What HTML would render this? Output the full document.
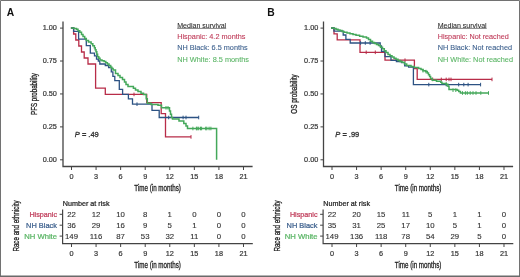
<!DOCTYPE html>
<html><head><meta charset="utf-8"><style>
html,body{margin:0;padding:0;background:#fff;}
svg{display:block;font-family:"Liberation Sans", sans-serif;filter:blur(0.3px);}
</style></head><body>
<svg width="520" height="277" viewBox="0 0 520 277">
<rect x="0" y="0" width="520" height="277" fill="#fff"/>
<path d="M0.5,277 V0.5 H519.5 V277" stroke="#727272" stroke-width="1" fill="none"/>
<line x1="0" y1="276.25" x2="520" y2="276.25" stroke="#6a6a6a" stroke-width="1.5"/>
<text x="6.80" y="15.50" font-size="10.3" fill="#111" stroke="#111" stroke-width="0" text-anchor="start" font-weight="bold" font-style="normal" >A</text>
<path d="M63.00,21.5 V166.5 H252.60" stroke="#444" stroke-width="1.3" fill="none"/>
<line x1="60.00" y1="28.10" x2="63.00" y2="28.10" stroke="#444" stroke-width="1"/>
<text x="56.90" y="30.30" font-size="7.3" fill="#3a3a3a" stroke="#3a3a3a" stroke-width="0.22" text-anchor="end" font-weight="normal" font-style="normal" >1.00</text>
<line x1="60.00" y1="61.03" x2="63.00" y2="61.03" stroke="#444" stroke-width="1"/>
<text x="56.90" y="63.23" font-size="7.3" fill="#3a3a3a" stroke="#3a3a3a" stroke-width="0.22" text-anchor="end" font-weight="normal" font-style="normal" >0.75</text>
<line x1="60.00" y1="93.95" x2="63.00" y2="93.95" stroke="#444" stroke-width="1"/>
<text x="56.90" y="96.15" font-size="7.3" fill="#3a3a3a" stroke="#3a3a3a" stroke-width="0.22" text-anchor="end" font-weight="normal" font-style="normal" >0.50</text>
<line x1="60.00" y1="126.88" x2="63.00" y2="126.88" stroke="#444" stroke-width="1"/>
<text x="56.90" y="129.08" font-size="7.3" fill="#3a3a3a" stroke="#3a3a3a" stroke-width="0.22" text-anchor="end" font-weight="normal" font-style="normal" >0.25</text>
<line x1="60.00" y1="159.80" x2="63.00" y2="159.80" stroke="#444" stroke-width="1"/>
<text x="56.90" y="162.00" font-size="7.3" fill="#3a3a3a" stroke="#3a3a3a" stroke-width="0.22" text-anchor="end" font-weight="normal" font-style="normal" >0.00</text>
<line x1="71.50" y1="166.5" x2="71.50" y2="170" stroke="#444" stroke-width="1"/>
<text x="71.50" y="178.80" font-size="7.3" fill="#3a3a3a" stroke="#3a3a3a" stroke-width="0.22" text-anchor="middle" font-weight="normal" font-style="normal" >0</text>
<line x1="96.07" y1="166.5" x2="96.07" y2="170" stroke="#444" stroke-width="1"/>
<text x="96.07" y="178.80" font-size="7.3" fill="#3a3a3a" stroke="#3a3a3a" stroke-width="0.22" text-anchor="middle" font-weight="normal" font-style="normal" >3</text>
<line x1="120.64" y1="166.5" x2="120.64" y2="170" stroke="#444" stroke-width="1"/>
<text x="120.64" y="178.80" font-size="7.3" fill="#3a3a3a" stroke="#3a3a3a" stroke-width="0.22" text-anchor="middle" font-weight="normal" font-style="normal" >6</text>
<line x1="145.21" y1="166.5" x2="145.21" y2="170" stroke="#444" stroke-width="1"/>
<text x="145.21" y="178.80" font-size="7.3" fill="#3a3a3a" stroke="#3a3a3a" stroke-width="0.22" text-anchor="middle" font-weight="normal" font-style="normal" >9</text>
<line x1="169.78" y1="166.5" x2="169.78" y2="170" stroke="#444" stroke-width="1"/>
<text x="169.78" y="178.80" font-size="7.3" fill="#3a3a3a" stroke="#3a3a3a" stroke-width="0.22" text-anchor="middle" font-weight="normal" font-style="normal" >12</text>
<line x1="194.35" y1="166.5" x2="194.35" y2="170" stroke="#444" stroke-width="1"/>
<text x="194.35" y="178.80" font-size="7.3" fill="#3a3a3a" stroke="#3a3a3a" stroke-width="0.22" text-anchor="middle" font-weight="normal" font-style="normal" >15</text>
<line x1="218.92" y1="166.5" x2="218.92" y2="170" stroke="#444" stroke-width="1"/>
<text x="218.92" y="178.80" font-size="7.3" fill="#3a3a3a" stroke="#3a3a3a" stroke-width="0.22" text-anchor="middle" font-weight="normal" font-style="normal" >18</text>
<line x1="243.49" y1="166.5" x2="243.49" y2="170" stroke="#444" stroke-width="1"/>
<text x="243.49" y="178.80" font-size="7.3" fill="#3a3a3a" stroke="#3a3a3a" stroke-width="0.22" text-anchor="middle" font-weight="normal" font-style="normal" >21</text>
<text x="134.30" y="191.30" font-size="8.9" fill="#222" stroke="#222" stroke-width="0.3" text-anchor="start" font-weight="normal" font-style="normal" textLength="46.6" lengthAdjust="spacingAndGlyphs" >Time (in months)</text>
<text transform="translate(36.70,94.00) rotate(-90)" x="0" y="0" font-size="8.6" fill="#222" stroke="#222" stroke-width="0.3" text-anchor="middle" textLength="41.9" lengthAdjust="spacingAndGlyphs">PFS probability</text>
<text x="177.20" y="27.60" font-size="7.6" fill="#2a2a2a" stroke="#2a2a2a" stroke-width="0.08" text-anchor="start" font-weight="normal" font-style="normal" textLength="49.0" lengthAdjust="spacingAndGlyphs" >Median survival</text>
<line x1="177.20" y1="28.4" x2="226.20" y2="28.4" stroke="#333" stroke-width="0.6"/>
<text x="177.20" y="39.10" font-size="7.6" fill="#bf3a58" stroke="#bf3a58" stroke-width="0.1" text-anchor="start" font-weight="normal" font-style="normal" textLength="68.3" lengthAdjust="spacingAndGlyphs" >Hispanic: 4.2 months</text>
<text x="177.20" y="50.40" font-size="7.6" fill="#3a5e8c" stroke="#3a5e8c" stroke-width="0.1" text-anchor="start" font-weight="normal" font-style="normal" textLength="70.5" lengthAdjust="spacingAndGlyphs" >NH Black: 6.5 months</text>
<text x="177.20" y="61.70" font-size="7.6" fill="#5ab565" stroke="#5ab565" stroke-width="0.1" text-anchor="start" font-weight="normal" font-style="normal" textLength="71.8" lengthAdjust="spacingAndGlyphs" >NH White: 8.5 months</text>
<text x="74.80" y="136.90" font-size="7.5" fill="#333" stroke="#333" stroke-width="0.3" text-anchor="start" font-weight="normal" font-style="normal" ><tspan font-style="italic">P</tspan> = .49</text>
<path d="M70.9,28 H73.6 V34 H75.8 V40 H78.8 V46 H81.5 V52 H84.2 V58 H88 V64 H95.6 V88.2 H105.3 V94.4 H146.7 V102.7 H161.2 V113.6 H165.5 V136.9 H191" stroke="#b82c48" stroke-width="1.3" fill="none" stroke-linejoin="miter"/>
<line x1="134.00" y1="92.60" x2="134.00" y2="96.20" stroke="#b82c48" stroke-width="1"/>
<line x1="191.00" y1="135.10" x2="191.00" y2="138.70" stroke="#b82c48" stroke-width="1"/>
<path d="M70.9,28 H73.6 V31.3 H78.6 V39.2 H86.3 V45.7 H90.3 V53.2 H94.5 V55.9 H96.5 V59.2 H98.3 V61 H99.8 V64 H105.3 V65.5 H108.6 V67.5 H111.3 V71.9 H112.9 V76.3 H114.8 V80.7 H119.3 V89.4 H122.6 V94.3 H128.4 V98.8 H132.5 V104.2 H152 V110.4 H159.2 V117.5 H198.7" stroke="#2c5283" stroke-width="1.3" fill="none" stroke-linejoin="miter"/>
<line x1="137.00" y1="102.40" x2="137.00" y2="106.00" stroke="#2c5283" stroke-width="1"/>
<line x1="168.70" y1="115.70" x2="168.70" y2="119.30" stroke="#2c5283" stroke-width="1"/>
<line x1="183.10" y1="115.70" x2="183.10" y2="119.30" stroke="#2c5283" stroke-width="1"/>
<line x1="186.00" y1="115.70" x2="186.00" y2="119.30" stroke="#2c5283" stroke-width="1"/>
<line x1="198.70" y1="115.70" x2="198.70" y2="119.30" stroke="#2c5283" stroke-width="1"/>
<path d="M70.90,28.00 L74.00,28.00 L74.00,28.60 L76.50,28.60 L76.50,29.30 L78.00,29.30 L78.00,30.80 L79.80,30.80 L79.80,32.30 L81.50,32.30 L81.50,34.40 L83.00,34.40 L83.00,36.40 L84.70,36.40 L84.70,38.40 L86.30,38.40 L86.30,40.40 L88.50,40.40 L88.50,42.00 L91.10,42.00 L91.10,43.70 L92.80,43.70 L92.80,45.70 L94.40,45.70 L94.40,47.80 L95.20,47.80 L95.20,49.80 L96.00,49.80 L96.00,51.80 L96.80,51.80 L96.80,54.20 L97.60,54.20 L97.60,56.70 L98.80,56.70 L98.80,58.30 L100.00,58.30 L100.00,60.00 L102.00,60.00 L102.00,60.80 L104.10,60.80 L104.10,61.60 L105.80,61.60 L105.80,62.80 L107.40,62.80 L107.40,64.00 L109.00,64.00 L109.00,65.60 L110.70,65.60 L110.70,67.30 L111.90,67.30 L111.90,68.60 L113.10,68.60 L113.10,70.00 L115.50,70.00 L115.50,70.00 L115.50,71.90 L115.50,73.50 L118.00,73.50 L118.00,75.50 L120.00,75.50 L120.00,77.50 L122.50,77.50 L122.50,79.50 L124.50,79.50 L124.50,82.00 L126.00,82.00 L126.00,84.50 L128.00,84.50 L128.00,86.50 L133.40,86.50 L133.40,88.30 L135.50,88.30 L135.50,90.00 L138.00,90.00 L138.00,91.60 L141.00,91.60 L141.00,93.20 L143.50,93.20 L143.50,94.50 L146.20,94.50 L146.20,98.80 L147.30,98.80 L147.30,103.20 L151.00,103.20 L151.00,104.40 L158.00,104.40 L158.00,105.20 L161.50,105.20 L161.50,107.80 L169.50,107.80 L169.50,111.00 L170.50,111.00 L170.50,114.20 L171.50,114.20 L171.50,117.50 L172.50,117.50 L172.50,119.00 L179.00,119.00 L179.00,121.00 L183.80,121.00 L183.80,123.50 L186.00,123.50 L186.00,126.00 L187.50,126.00 L187.50,128.50 L216.60,128.50 L216.60,159.80" stroke="#44a85a" stroke-width="1.5" fill="none" stroke-linejoin="miter"/>
<line x1="192.90" y1="126.70" x2="192.90" y2="130.30" stroke="#44a85a" stroke-width="1"/>
<line x1="196.40" y1="126.70" x2="196.40" y2="130.30" stroke="#44a85a" stroke-width="1"/>
<line x1="197.20" y1="126.70" x2="197.20" y2="130.30" stroke="#44a85a" stroke-width="1"/>
<line x1="198.70" y1="126.70" x2="198.70" y2="130.30" stroke="#44a85a" stroke-width="1"/>
<line x1="200.50" y1="126.70" x2="200.50" y2="130.30" stroke="#44a85a" stroke-width="1"/>
<line x1="201.60" y1="126.70" x2="201.60" y2="130.30" stroke="#44a85a" stroke-width="1"/>
<line x1="205.70" y1="126.70" x2="205.70" y2="130.30" stroke="#44a85a" stroke-width="1"/>
<line x1="206.80" y1="126.70" x2="206.80" y2="130.30" stroke="#44a85a" stroke-width="1"/>
<line x1="209.10" y1="126.70" x2="209.10" y2="130.30" stroke="#44a85a" stroke-width="1"/>
<line x1="210.90" y1="126.70" x2="210.90" y2="130.30" stroke="#44a85a" stroke-width="1"/>
<line x1="166.00" y1="106.00" x2="166.00" y2="109.60" stroke="#44a85a" stroke-width="1"/>
<line x1="168.00" y1="106.00" x2="168.00" y2="109.60" stroke="#44a85a" stroke-width="1"/>
<text x="62.80" y="205.60" font-size="7.3" fill="#222" stroke="#222" stroke-width="0.22" text-anchor="start" font-weight="normal" font-style="normal" textLength="46.7" lengthAdjust="spacingAndGlyphs" >Number at risk</text>
<path d="M62.60,209.6 V243.6 H252.80" stroke="#444" stroke-width="1.2" fill="none"/>
<line x1="59.60" y1="214.30" x2="62.60" y2="214.30" stroke="#444" stroke-width="1"/>
<text x="57.00" y="216.80" font-size="7.3" fill="#bf3a58" stroke="#bf3a58" stroke-width="0.22" text-anchor="end" font-weight="normal" font-style="normal" textLength="27.6" lengthAdjust="spacingAndGlyphs" >Hispanic</text>
<text x="71.50" y="217.00" font-size="7.8" fill="#333" stroke="#333" stroke-width="0.12" text-anchor="middle" font-weight="normal" font-style="normal" >22</text>
<text x="96.07" y="217.00" font-size="7.8" fill="#333" stroke="#333" stroke-width="0.12" text-anchor="middle" font-weight="normal" font-style="normal" >12</text>
<text x="120.64" y="217.00" font-size="7.8" fill="#333" stroke="#333" stroke-width="0.12" text-anchor="middle" font-weight="normal" font-style="normal" >10</text>
<text x="145.21" y="217.00" font-size="7.8" fill="#333" stroke="#333" stroke-width="0.12" text-anchor="middle" font-weight="normal" font-style="normal" >8</text>
<text x="169.78" y="217.00" font-size="7.8" fill="#333" stroke="#333" stroke-width="0.12" text-anchor="middle" font-weight="normal" font-style="normal" >1</text>
<text x="194.35" y="217.00" font-size="7.8" fill="#333" stroke="#333" stroke-width="0.12" text-anchor="middle" font-weight="normal" font-style="normal" >0</text>
<text x="218.92" y="217.00" font-size="7.8" fill="#333" stroke="#333" stroke-width="0.12" text-anchor="middle" font-weight="normal" font-style="normal" >0</text>
<text x="243.49" y="217.00" font-size="7.8" fill="#333" stroke="#333" stroke-width="0.12" text-anchor="middle" font-weight="normal" font-style="normal" >0</text>
<line x1="59.60" y1="225.20" x2="62.60" y2="225.20" stroke="#444" stroke-width="1"/>
<text x="57.00" y="227.70" font-size="7.3" fill="#3a5e8c" stroke="#3a5e8c" stroke-width="0.22" text-anchor="end" font-weight="normal" font-style="normal" textLength="30.9" lengthAdjust="spacingAndGlyphs" >NH Black</text>
<text x="71.50" y="227.90" font-size="7.8" fill="#333" stroke="#333" stroke-width="0.12" text-anchor="middle" font-weight="normal" font-style="normal" >36</text>
<text x="96.07" y="227.90" font-size="7.8" fill="#333" stroke="#333" stroke-width="0.12" text-anchor="middle" font-weight="normal" font-style="normal" >29</text>
<text x="120.64" y="227.90" font-size="7.8" fill="#333" stroke="#333" stroke-width="0.12" text-anchor="middle" font-weight="normal" font-style="normal" >16</text>
<text x="145.21" y="227.90" font-size="7.8" fill="#333" stroke="#333" stroke-width="0.12" text-anchor="middle" font-weight="normal" font-style="normal" >9</text>
<text x="169.78" y="227.90" font-size="7.8" fill="#333" stroke="#333" stroke-width="0.12" text-anchor="middle" font-weight="normal" font-style="normal" >5</text>
<text x="194.35" y="227.90" font-size="7.8" fill="#333" stroke="#333" stroke-width="0.12" text-anchor="middle" font-weight="normal" font-style="normal" >1</text>
<text x="218.92" y="227.90" font-size="7.8" fill="#333" stroke="#333" stroke-width="0.12" text-anchor="middle" font-weight="normal" font-style="normal" >0</text>
<text x="243.49" y="227.90" font-size="7.8" fill="#333" stroke="#333" stroke-width="0.12" text-anchor="middle" font-weight="normal" font-style="normal" >0</text>
<line x1="59.60" y1="236.10" x2="62.60" y2="236.10" stroke="#444" stroke-width="1"/>
<text x="57.00" y="238.60" font-size="7.3" fill="#5ab565" stroke="#5ab565" stroke-width="0.22" text-anchor="end" font-weight="normal" font-style="normal" textLength="32.8" lengthAdjust="spacingAndGlyphs" >NH White</text>
<text x="71.50" y="238.80" font-size="7.8" fill="#333" stroke="#333" stroke-width="0.12" text-anchor="middle" font-weight="normal" font-style="normal" >149</text>
<text x="96.07" y="238.80" font-size="7.8" fill="#333" stroke="#333" stroke-width="0.12" text-anchor="middle" font-weight="normal" font-style="normal" >116</text>
<text x="120.64" y="238.80" font-size="7.8" fill="#333" stroke="#333" stroke-width="0.12" text-anchor="middle" font-weight="normal" font-style="normal" >87</text>
<text x="145.21" y="238.80" font-size="7.8" fill="#333" stroke="#333" stroke-width="0.12" text-anchor="middle" font-weight="normal" font-style="normal" >53</text>
<text x="169.78" y="238.80" font-size="7.8" fill="#333" stroke="#333" stroke-width="0.12" text-anchor="middle" font-weight="normal" font-style="normal" >32</text>
<text x="194.35" y="238.80" font-size="7.8" fill="#333" stroke="#333" stroke-width="0.12" text-anchor="middle" font-weight="normal" font-style="normal" >11</text>
<text x="218.92" y="238.80" font-size="7.8" fill="#333" stroke="#333" stroke-width="0.12" text-anchor="middle" font-weight="normal" font-style="normal" >0</text>
<text x="243.49" y="238.80" font-size="7.8" fill="#333" stroke="#333" stroke-width="0.12" text-anchor="middle" font-weight="normal" font-style="normal" >0</text>
<line x1="71.50" y1="243.6" x2="71.50" y2="247" stroke="#444" stroke-width="1"/>
<text x="71.50" y="255.70" font-size="7.3" fill="#3a3a3a" stroke="#3a3a3a" stroke-width="0.22" text-anchor="middle" font-weight="normal" font-style="normal" >0</text>
<line x1="96.07" y1="243.6" x2="96.07" y2="247" stroke="#444" stroke-width="1"/>
<text x="96.07" y="255.70" font-size="7.3" fill="#3a3a3a" stroke="#3a3a3a" stroke-width="0.22" text-anchor="middle" font-weight="normal" font-style="normal" >3</text>
<line x1="120.64" y1="243.6" x2="120.64" y2="247" stroke="#444" stroke-width="1"/>
<text x="120.64" y="255.70" font-size="7.3" fill="#3a3a3a" stroke="#3a3a3a" stroke-width="0.22" text-anchor="middle" font-weight="normal" font-style="normal" >6</text>
<line x1="145.21" y1="243.6" x2="145.21" y2="247" stroke="#444" stroke-width="1"/>
<text x="145.21" y="255.70" font-size="7.3" fill="#3a3a3a" stroke="#3a3a3a" stroke-width="0.22" text-anchor="middle" font-weight="normal" font-style="normal" >9</text>
<line x1="169.78" y1="243.6" x2="169.78" y2="247" stroke="#444" stroke-width="1"/>
<text x="169.78" y="255.70" font-size="7.3" fill="#3a3a3a" stroke="#3a3a3a" stroke-width="0.22" text-anchor="middle" font-weight="normal" font-style="normal" >12</text>
<line x1="194.35" y1="243.6" x2="194.35" y2="247" stroke="#444" stroke-width="1"/>
<text x="194.35" y="255.70" font-size="7.3" fill="#3a3a3a" stroke="#3a3a3a" stroke-width="0.22" text-anchor="middle" font-weight="normal" font-style="normal" >15</text>
<line x1="218.92" y1="243.6" x2="218.92" y2="247" stroke="#444" stroke-width="1"/>
<text x="218.92" y="255.70" font-size="7.3" fill="#3a3a3a" stroke="#3a3a3a" stroke-width="0.22" text-anchor="middle" font-weight="normal" font-style="normal" >18</text>
<line x1="243.49" y1="243.6" x2="243.49" y2="247" stroke="#444" stroke-width="1"/>
<text x="243.49" y="255.70" font-size="7.3" fill="#3a3a3a" stroke="#3a3a3a" stroke-width="0.22" text-anchor="middle" font-weight="normal" font-style="normal" >21</text>
<text x="134.30" y="268.30" font-size="8.9" fill="#222" stroke="#222" stroke-width="0.3" text-anchor="start" font-weight="normal" font-style="normal" textLength="46.6" lengthAdjust="spacingAndGlyphs" >Time (in months)</text>
<text transform="translate(19.20,226.00) rotate(-90)" x="0" y="0" font-size="8.9" fill="#222" stroke="#222" stroke-width="0.3" text-anchor="middle" textLength="51.2" lengthAdjust="spacingAndGlyphs">Race and ethnicity</text>
<text x="267.30" y="15.50" font-size="10.3" fill="#111" stroke="#111" stroke-width="0" text-anchor="start" font-weight="bold" font-style="normal" >B</text>
<path d="M323.50,21.5 V166.5 H513.10" stroke="#444" stroke-width="1.3" fill="none"/>
<line x1="320.50" y1="28.10" x2="323.50" y2="28.10" stroke="#444" stroke-width="1"/>
<text x="318.30" y="30.30" font-size="7.3" fill="#3a3a3a" stroke="#3a3a3a" stroke-width="0.22" text-anchor="end" font-weight="normal" font-style="normal" >1.00</text>
<line x1="320.50" y1="61.03" x2="323.50" y2="61.03" stroke="#444" stroke-width="1"/>
<text x="318.30" y="63.23" font-size="7.3" fill="#3a3a3a" stroke="#3a3a3a" stroke-width="0.22" text-anchor="end" font-weight="normal" font-style="normal" >0.75</text>
<line x1="320.50" y1="93.95" x2="323.50" y2="93.95" stroke="#444" stroke-width="1"/>
<text x="318.30" y="96.15" font-size="7.3" fill="#3a3a3a" stroke="#3a3a3a" stroke-width="0.22" text-anchor="end" font-weight="normal" font-style="normal" >0.50</text>
<line x1="320.50" y1="126.88" x2="323.50" y2="126.88" stroke="#444" stroke-width="1"/>
<text x="318.30" y="129.08" font-size="7.3" fill="#3a3a3a" stroke="#3a3a3a" stroke-width="0.22" text-anchor="end" font-weight="normal" font-style="normal" >0.25</text>
<line x1="320.50" y1="159.80" x2="323.50" y2="159.80" stroke="#444" stroke-width="1"/>
<text x="318.30" y="162.00" font-size="7.3" fill="#3a3a3a" stroke="#3a3a3a" stroke-width="0.22" text-anchor="end" font-weight="normal" font-style="normal" >0.00</text>
<line x1="332.00" y1="166.5" x2="332.00" y2="170" stroke="#444" stroke-width="1"/>
<text x="332.00" y="178.80" font-size="7.3" fill="#3a3a3a" stroke="#3a3a3a" stroke-width="0.22" text-anchor="middle" font-weight="normal" font-style="normal" >0</text>
<line x1="356.57" y1="166.5" x2="356.57" y2="170" stroke="#444" stroke-width="1"/>
<text x="356.57" y="178.80" font-size="7.3" fill="#3a3a3a" stroke="#3a3a3a" stroke-width="0.22" text-anchor="middle" font-weight="normal" font-style="normal" >3</text>
<line x1="381.14" y1="166.5" x2="381.14" y2="170" stroke="#444" stroke-width="1"/>
<text x="381.14" y="178.80" font-size="7.3" fill="#3a3a3a" stroke="#3a3a3a" stroke-width="0.22" text-anchor="middle" font-weight="normal" font-style="normal" >6</text>
<line x1="405.71" y1="166.5" x2="405.71" y2="170" stroke="#444" stroke-width="1"/>
<text x="405.71" y="178.80" font-size="7.3" fill="#3a3a3a" stroke="#3a3a3a" stroke-width="0.22" text-anchor="middle" font-weight="normal" font-style="normal" >9</text>
<line x1="430.28" y1="166.5" x2="430.28" y2="170" stroke="#444" stroke-width="1"/>
<text x="430.28" y="178.80" font-size="7.3" fill="#3a3a3a" stroke="#3a3a3a" stroke-width="0.22" text-anchor="middle" font-weight="normal" font-style="normal" >12</text>
<line x1="454.85" y1="166.5" x2="454.85" y2="170" stroke="#444" stroke-width="1"/>
<text x="454.85" y="178.80" font-size="7.3" fill="#3a3a3a" stroke="#3a3a3a" stroke-width="0.22" text-anchor="middle" font-weight="normal" font-style="normal" >15</text>
<line x1="479.42" y1="166.5" x2="479.42" y2="170" stroke="#444" stroke-width="1"/>
<text x="479.42" y="178.80" font-size="7.3" fill="#3a3a3a" stroke="#3a3a3a" stroke-width="0.22" text-anchor="middle" font-weight="normal" font-style="normal" >18</text>
<line x1="503.99" y1="166.5" x2="503.99" y2="170" stroke="#444" stroke-width="1"/>
<text x="503.99" y="178.80" font-size="7.3" fill="#3a3a3a" stroke="#3a3a3a" stroke-width="0.22" text-anchor="middle" font-weight="normal" font-style="normal" >21</text>
<text x="394.80" y="191.30" font-size="8.9" fill="#222" stroke="#222" stroke-width="0.3" text-anchor="start" font-weight="normal" font-style="normal" textLength="46.6" lengthAdjust="spacingAndGlyphs" >Time (in months)</text>
<text transform="translate(297.20,94.00) rotate(-90)" x="0" y="0" font-size="8.6" fill="#222" stroke="#222" stroke-width="0.3" text-anchor="middle" textLength="39.3" lengthAdjust="spacingAndGlyphs">OS probability</text>
<text x="437.70" y="27.60" font-size="7.6" fill="#2a2a2a" stroke="#2a2a2a" stroke-width="0.08" text-anchor="start" font-weight="normal" font-style="normal" textLength="49.0" lengthAdjust="spacingAndGlyphs" >Median survival</text>
<line x1="437.70" y1="28.4" x2="486.70" y2="28.4" stroke="#333" stroke-width="0.6"/>
<text x="437.70" y="39.10" font-size="7.6" fill="#bf3a58" stroke="#bf3a58" stroke-width="0.1" text-anchor="start" font-weight="normal" font-style="normal" textLength="71.1" lengthAdjust="spacingAndGlyphs" >Hispanic: Not reached</text>
<text x="437.70" y="50.40" font-size="7.6" fill="#3a5e8c" stroke="#3a5e8c" stroke-width="0.1" text-anchor="start" font-weight="normal" font-style="normal" textLength="74.4" lengthAdjust="spacingAndGlyphs" >NH Black: Not reached</text>
<text x="437.70" y="61.70" font-size="7.6" fill="#5ab565" stroke="#5ab565" stroke-width="0.1" text-anchor="start" font-weight="normal" font-style="normal" textLength="75.3" lengthAdjust="spacingAndGlyphs" >NH White: Not reached</text>
<text x="335.30" y="136.90" font-size="7.5" fill="#333" stroke="#333" stroke-width="0.3" text-anchor="start" font-weight="normal" font-style="normal" ><tspan font-style="italic">P</tspan> = .99</text>
<path d="M331,28 H334 V33.9 H337.2 V39.9 H360 V52.3 H385 V60.2 H414.4 V68.5 H417.2 V79.4 H492" stroke="#b82c48" stroke-width="1.3" fill="none" stroke-linejoin="miter"/>
<line x1="432.70" y1="77.60" x2="432.70" y2="81.20" stroke="#b82c48" stroke-width="1"/>
<line x1="441.30" y1="77.60" x2="441.30" y2="81.20" stroke="#b82c48" stroke-width="1"/>
<line x1="446.20" y1="77.60" x2="446.20" y2="81.20" stroke="#b82c48" stroke-width="1"/>
<line x1="449.00" y1="77.60" x2="449.00" y2="81.20" stroke="#b82c48" stroke-width="1"/>
<line x1="451.00" y1="77.60" x2="451.00" y2="81.20" stroke="#b82c48" stroke-width="1"/>
<line x1="492.00" y1="77.60" x2="492.00" y2="81.20" stroke="#b82c48" stroke-width="1"/>
<line x1="366.20" y1="50.50" x2="366.20" y2="54.10" stroke="#b82c48" stroke-width="1"/>
<line x1="375.30" y1="50.50" x2="375.30" y2="54.10" stroke="#b82c48" stroke-width="1"/>
<line x1="405.00" y1="58.40" x2="405.00" y2="62.00" stroke="#b82c48" stroke-width="1"/>
<path d="M331,28 H334 V31.2 H343.2 V35 H345.9 V39.3 H350.2 V43 H380.2 V46 H381.5 V51.3 H385 V56.7 H391 V60.3 H396.4 V61.5 H401.5 V62.7 H404.7 V65.9 H408.6 V67.1 H413.4 V84.6 H480.7" stroke="#2c5283" stroke-width="1.3" fill="none" stroke-linejoin="miter"/>
<line x1="428.80" y1="82.80" x2="428.80" y2="86.40" stroke="#2c5283" stroke-width="1"/>
<line x1="446.30" y1="82.80" x2="446.30" y2="86.40" stroke="#2c5283" stroke-width="1"/>
<line x1="458.70" y1="82.80" x2="458.70" y2="86.40" stroke="#2c5283" stroke-width="1"/>
<line x1="463.80" y1="82.80" x2="463.80" y2="86.40" stroke="#2c5283" stroke-width="1"/>
<line x1="468.10" y1="82.80" x2="468.10" y2="86.40" stroke="#2c5283" stroke-width="1"/>
<line x1="480.60" y1="82.80" x2="480.60" y2="86.40" stroke="#2c5283" stroke-width="1"/>
<line x1="360.60" y1="41.20" x2="360.60" y2="44.80" stroke="#2c5283" stroke-width="1"/>
<line x1="365.30" y1="41.20" x2="365.30" y2="44.80" stroke="#2c5283" stroke-width="1"/>
<line x1="370.10" y1="41.20" x2="370.10" y2="44.80" stroke="#2c5283" stroke-width="1"/>
<path d="M331.00,28.00 L334.00,28.00 L334.00,28.60 L336.00,28.60 L336.00,29.30 L338.00,29.30 L338.00,29.90 L340.00,29.90 L340.00,30.60 L342.00,30.60 L342.00,31.40 L344.00,31.40 L344.00,32.30 L347.00,32.30 L347.00,33.00 L350.00,33.00 L350.00,33.70 L353.00,33.70 L353.00,34.40 L356.00,34.40 L356.00,35.30 L359.60,35.30 L359.60,36.30 L363.00,36.30 L363.00,37.00 L366.50,37.00 L366.50,38.00 L368.50,38.00 L368.50,39.50 L370.50,39.50 L370.50,41.20 L372.50,41.20 L372.50,42.50 L374.50,42.50 L374.50,43.50 L376.50,43.50 L376.50,44.50 L378.50,44.50 L378.50,45.50 L380.50,45.50 L380.50,47.20 L382.50,47.20 L382.50,48.80 L384.30,48.80 L384.30,50.80 L386.00,50.80 L386.00,52.60 L388.00,52.60 L388.00,54.40 L390.00,54.40 L390.00,55.80 L392.00,55.80 L392.00,57.00 L394.00,57.00 L394.00,58.20 L396.00,58.20 L396.00,59.30 L398.00,59.30 L398.00,60.50 L400.00,60.50 L400.00,61.40 L402.00,61.40 L402.00,62.30 L404.50,62.30 L404.50,63.90 L406.70,63.90 L406.70,65.50 L411.00,65.50 L411.00,66.40 L414.30,66.40 L414.30,67.50 L418.60,67.50 L418.60,68.50 L421.00,68.50 L421.00,69.60 L423.00,69.60 L423.00,70.70 L425.50,70.70 L425.50,71.60 L427.30,71.60 L427.30,73.00 L428.50,73.00 L428.50,74.80 L429.60,74.80 L429.60,76.50 L430.60,76.50 L430.60,78.40 L432.20,78.40 L432.20,80.20 L436.50,80.20 L436.50,81.20 L440.80,81.20 L440.80,82.30 L441.90,82.30 L441.90,83.60 L446.30,83.60 L446.30,84.20 L447.90,84.20 L447.90,86.30 L449.00,86.30 L449.00,89.60 L457.10,89.60 L457.10,90.20 L458.70,90.20 L458.70,91.50 L460.40,91.50 L460.40,93.00 L488.70,93.00 L488.70,93.00" stroke="#44a85a" stroke-width="1.5" fill="none" stroke-linejoin="miter"/>
<line x1="462.50" y1="91.20" x2="462.50" y2="94.80" stroke="#44a85a" stroke-width="1"/>
<line x1="465.40" y1="91.20" x2="465.40" y2="94.80" stroke="#44a85a" stroke-width="1"/>
<line x1="467.30" y1="91.20" x2="467.30" y2="94.80" stroke="#44a85a" stroke-width="1"/>
<line x1="470.20" y1="91.20" x2="470.20" y2="94.80" stroke="#44a85a" stroke-width="1"/>
<line x1="473.00" y1="91.20" x2="473.00" y2="94.80" stroke="#44a85a" stroke-width="1"/>
<line x1="476.00" y1="91.20" x2="476.00" y2="94.80" stroke="#44a85a" stroke-width="1"/>
<line x1="480.80" y1="91.20" x2="480.80" y2="94.80" stroke="#44a85a" stroke-width="1"/>
<line x1="488.50" y1="91.20" x2="488.50" y2="94.80" stroke="#44a85a" stroke-width="1"/>
<line x1="453.00" y1="88.40" x2="453.00" y2="92.00" stroke="#44a85a" stroke-width="1"/>
<line x1="455.80" y1="88.40" x2="455.80" y2="92.00" stroke="#44a85a" stroke-width="1"/>
<line x1="446.20" y1="82.40" x2="446.20" y2="86.00" stroke="#44a85a" stroke-width="1"/>
<line x1="423.00" y1="68.90" x2="423.00" y2="72.50" stroke="#44a85a" stroke-width="1"/>
<line x1="426.00" y1="69.80" x2="426.00" y2="73.40" stroke="#44a85a" stroke-width="1"/>
<text x="323.30" y="205.60" font-size="7.3" fill="#222" stroke="#222" stroke-width="0.22" text-anchor="start" font-weight="normal" font-style="normal" textLength="46.7" lengthAdjust="spacingAndGlyphs" >Number at risk</text>
<path d="M323.10,209.6 V243.6 H513.30" stroke="#444" stroke-width="1.2" fill="none"/>
<line x1="320.10" y1="214.30" x2="323.10" y2="214.30" stroke="#444" stroke-width="1"/>
<text x="317.50" y="216.80" font-size="7.3" fill="#bf3a58" stroke="#bf3a58" stroke-width="0.22" text-anchor="end" font-weight="normal" font-style="normal" textLength="27.6" lengthAdjust="spacingAndGlyphs" >Hispanic</text>
<text x="332.00" y="217.00" font-size="7.8" fill="#333" stroke="#333" stroke-width="0.12" text-anchor="middle" font-weight="normal" font-style="normal" >22</text>
<text x="356.57" y="217.00" font-size="7.8" fill="#333" stroke="#333" stroke-width="0.12" text-anchor="middle" font-weight="normal" font-style="normal" >20</text>
<text x="381.14" y="217.00" font-size="7.8" fill="#333" stroke="#333" stroke-width="0.12" text-anchor="middle" font-weight="normal" font-style="normal" >15</text>
<text x="405.71" y="217.00" font-size="7.8" fill="#333" stroke="#333" stroke-width="0.12" text-anchor="middle" font-weight="normal" font-style="normal" >11</text>
<text x="430.28" y="217.00" font-size="7.8" fill="#333" stroke="#333" stroke-width="0.12" text-anchor="middle" font-weight="normal" font-style="normal" >5</text>
<text x="454.85" y="217.00" font-size="7.8" fill="#333" stroke="#333" stroke-width="0.12" text-anchor="middle" font-weight="normal" font-style="normal" >1</text>
<text x="479.42" y="217.00" font-size="7.8" fill="#333" stroke="#333" stroke-width="0.12" text-anchor="middle" font-weight="normal" font-style="normal" >1</text>
<text x="503.99" y="217.00" font-size="7.8" fill="#333" stroke="#333" stroke-width="0.12" text-anchor="middle" font-weight="normal" font-style="normal" >0</text>
<line x1="320.10" y1="225.20" x2="323.10" y2="225.20" stroke="#444" stroke-width="1"/>
<text x="317.50" y="227.70" font-size="7.3" fill="#3a5e8c" stroke="#3a5e8c" stroke-width="0.22" text-anchor="end" font-weight="normal" font-style="normal" textLength="30.9" lengthAdjust="spacingAndGlyphs" >NH Black</text>
<text x="332.00" y="227.90" font-size="7.8" fill="#333" stroke="#333" stroke-width="0.12" text-anchor="middle" font-weight="normal" font-style="normal" >35</text>
<text x="356.57" y="227.90" font-size="7.8" fill="#333" stroke="#333" stroke-width="0.12" text-anchor="middle" font-weight="normal" font-style="normal" >31</text>
<text x="381.14" y="227.90" font-size="7.8" fill="#333" stroke="#333" stroke-width="0.12" text-anchor="middle" font-weight="normal" font-style="normal" >25</text>
<text x="405.71" y="227.90" font-size="7.8" fill="#333" stroke="#333" stroke-width="0.12" text-anchor="middle" font-weight="normal" font-style="normal" >17</text>
<text x="430.28" y="227.90" font-size="7.8" fill="#333" stroke="#333" stroke-width="0.12" text-anchor="middle" font-weight="normal" font-style="normal" >10</text>
<text x="454.85" y="227.90" font-size="7.8" fill="#333" stroke="#333" stroke-width="0.12" text-anchor="middle" font-weight="normal" font-style="normal" >5</text>
<text x="479.42" y="227.90" font-size="7.8" fill="#333" stroke="#333" stroke-width="0.12" text-anchor="middle" font-weight="normal" font-style="normal" >1</text>
<text x="503.99" y="227.90" font-size="7.8" fill="#333" stroke="#333" stroke-width="0.12" text-anchor="middle" font-weight="normal" font-style="normal" >0</text>
<line x1="320.10" y1="236.10" x2="323.10" y2="236.10" stroke="#444" stroke-width="1"/>
<text x="317.50" y="238.60" font-size="7.3" fill="#5ab565" stroke="#5ab565" stroke-width="0.22" text-anchor="end" font-weight="normal" font-style="normal" textLength="32.8" lengthAdjust="spacingAndGlyphs" >NH White</text>
<text x="332.00" y="238.80" font-size="7.8" fill="#333" stroke="#333" stroke-width="0.12" text-anchor="middle" font-weight="normal" font-style="normal" >149</text>
<text x="356.57" y="238.80" font-size="7.8" fill="#333" stroke="#333" stroke-width="0.12" text-anchor="middle" font-weight="normal" font-style="normal" >136</text>
<text x="381.14" y="238.80" font-size="7.8" fill="#333" stroke="#333" stroke-width="0.12" text-anchor="middle" font-weight="normal" font-style="normal" >118</text>
<text x="405.71" y="238.80" font-size="7.8" fill="#333" stroke="#333" stroke-width="0.12" text-anchor="middle" font-weight="normal" font-style="normal" >78</text>
<text x="430.28" y="238.80" font-size="7.8" fill="#333" stroke="#333" stroke-width="0.12" text-anchor="middle" font-weight="normal" font-style="normal" >54</text>
<text x="454.85" y="238.80" font-size="7.8" fill="#333" stroke="#333" stroke-width="0.12" text-anchor="middle" font-weight="normal" font-style="normal" >29</text>
<text x="479.42" y="238.80" font-size="7.8" fill="#333" stroke="#333" stroke-width="0.12" text-anchor="middle" font-weight="normal" font-style="normal" >5</text>
<text x="503.99" y="238.80" font-size="7.8" fill="#333" stroke="#333" stroke-width="0.12" text-anchor="middle" font-weight="normal" font-style="normal" >0</text>
<line x1="332.00" y1="243.6" x2="332.00" y2="247" stroke="#444" stroke-width="1"/>
<text x="332.00" y="255.70" font-size="7.3" fill="#3a3a3a" stroke="#3a3a3a" stroke-width="0.22" text-anchor="middle" font-weight="normal" font-style="normal" >0</text>
<line x1="356.57" y1="243.6" x2="356.57" y2="247" stroke="#444" stroke-width="1"/>
<text x="356.57" y="255.70" font-size="7.3" fill="#3a3a3a" stroke="#3a3a3a" stroke-width="0.22" text-anchor="middle" font-weight="normal" font-style="normal" >3</text>
<line x1="381.14" y1="243.6" x2="381.14" y2="247" stroke="#444" stroke-width="1"/>
<text x="381.14" y="255.70" font-size="7.3" fill="#3a3a3a" stroke="#3a3a3a" stroke-width="0.22" text-anchor="middle" font-weight="normal" font-style="normal" >6</text>
<line x1="405.71" y1="243.6" x2="405.71" y2="247" stroke="#444" stroke-width="1"/>
<text x="405.71" y="255.70" font-size="7.3" fill="#3a3a3a" stroke="#3a3a3a" stroke-width="0.22" text-anchor="middle" font-weight="normal" font-style="normal" >9</text>
<line x1="430.28" y1="243.6" x2="430.28" y2="247" stroke="#444" stroke-width="1"/>
<text x="430.28" y="255.70" font-size="7.3" fill="#3a3a3a" stroke="#3a3a3a" stroke-width="0.22" text-anchor="middle" font-weight="normal" font-style="normal" >12</text>
<line x1="454.85" y1="243.6" x2="454.85" y2="247" stroke="#444" stroke-width="1"/>
<text x="454.85" y="255.70" font-size="7.3" fill="#3a3a3a" stroke="#3a3a3a" stroke-width="0.22" text-anchor="middle" font-weight="normal" font-style="normal" >15</text>
<line x1="479.42" y1="243.6" x2="479.42" y2="247" stroke="#444" stroke-width="1"/>
<text x="479.42" y="255.70" font-size="7.3" fill="#3a3a3a" stroke="#3a3a3a" stroke-width="0.22" text-anchor="middle" font-weight="normal" font-style="normal" >18</text>
<line x1="503.99" y1="243.6" x2="503.99" y2="247" stroke="#444" stroke-width="1"/>
<text x="503.99" y="255.70" font-size="7.3" fill="#3a3a3a" stroke="#3a3a3a" stroke-width="0.22" text-anchor="middle" font-weight="normal" font-style="normal" >21</text>
<text x="394.80" y="268.30" font-size="8.9" fill="#222" stroke="#222" stroke-width="0.3" text-anchor="start" font-weight="normal" font-style="normal" textLength="46.6" lengthAdjust="spacingAndGlyphs" >Time (in months)</text>
<text transform="translate(279.70,226.00) rotate(-90)" x="0" y="0" font-size="8.9" fill="#222" stroke="#222" stroke-width="0.3" text-anchor="middle" textLength="51.2" lengthAdjust="spacingAndGlyphs">Race and ethnicity</text>
</svg>
</body></html>
